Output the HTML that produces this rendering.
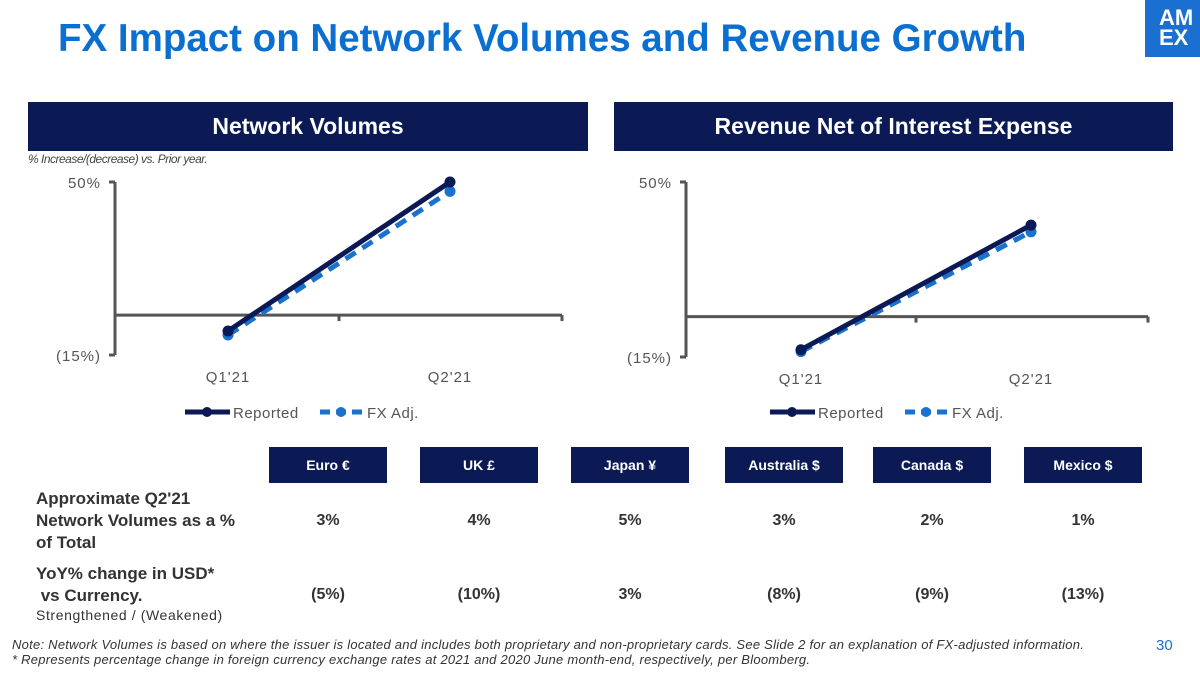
<!DOCTYPE html>
<html><head><meta charset="utf-8"><style>
body{margin:0;width:1200px;height:675px;background:#fff;position:relative;overflow:hidden;font-family:"Liberation Sans",sans-serif}
.abs{position:absolute}
.hdr{background:#0b1a55;color:#fff;font-weight:bold;font-size:23px;text-align:center;line-height:49px;height:49px;top:102px}
.cur{background:#0b1a55;color:#fff;font-weight:bold;font-size:14px;text-align:center;line-height:36px;height:36px;top:447px;width:118px}
.val{font-size:16px;font-weight:bold;color:#333;width:118px;text-align:center}
.lab{font-size:17px;font-weight:bold;color:#333;line-height:22px}
</style></head><body>
<div class="abs" style="left:58px;top:17px;font-size:38.5px;font-weight:bold;color:#0a6fd0">FX Impact on Network Volumes and Revenue Growth</div>
<div class="abs" style="left:1145px;top:0;width:55px;height:57px;background:#1a6fd0;color:#fff;font-weight:bold;font-size:22px;line-height:20px;padding:8px 0 0 14px;box-sizing:border-box">AM<br>EX</div>
<div class="abs hdr" style="left:28px;width:560px">Network Volumes</div>
<div class="abs hdr" style="left:614px;width:559px">Revenue Net of Interest Expense</div>
<div class="abs" style="left:28px;top:152px;font-size:12px;font-style:italic;color:#444;letter-spacing:-0.5px">% Increase/(decrease) vs. Prior year.</div>
<svg class="abs" style="left:0;top:0" width="1200" height="440">
<g id="c1"></g>
<g id="c2"></g>
</svg>
<div class="abs cur" style="left:269px">Euro €</div>
<div class="abs cur" style="left:420px">UK £</div>
<div class="abs cur" style="left:571px">Japan ¥</div>
<div class="abs cur" style="left:725px">Australia $</div>
<div class="abs cur" style="left:873px">Canada $</div>
<div class="abs cur" style="left:1024px">Mexico $</div>
<div class="abs lab" style="left:36px;top:488px">Approximate Q2'21<br>Network Volumes as a %<br>of Total</div>
<div class="abs lab" style="left:36px;top:563px">YoY% change in USD*<br>&nbsp;vs Currency.</div>
<div class="abs" style="left:36px;top:607px;font-size:14px;letter-spacing:0.6px;color:#333">Strengthened / (Weakened)</div>
<div id="vals"></div>
<div class="abs" style="left:12px;top:637px;font-size:13px;font-style:italic;color:#333;line-height:15px;letter-spacing:0.25px">Note: Network Volumes is based on where the issuer is located and includes both proprietary and non-proprietary cards. See Slide 2 for an explanation of FX-adjusted information.<br>* Represents percentage change in foreign currency exchange rates at 2021 and 2020 June month-end, respectively, per Bloomberg.</div>
<div class="abs" style="left:1156px;top:637px;font-size:15px;color:#1a6fd0">30</div>
<script>
const categories=["Q1'21","Q2'21"];
const nvReported=[-6,50];
const nvFxAdj=[-7.5,46.5];
const revReported=[-12.3,34];
const revFxAdj=[-13,31.5];
const yTicks=[50,-15];
const yTickLabels=["50%","(15%)"];
const shareVals=["3%","4%","5%","3%","2%","1%"];
const yoyVals=["(5%)","(10%)","3%","(8%)","(9%)","(13%)"];
const colCenters=[328,479,630,784,932,1083];
const NS="http://www.w3.org/2000/svg";
function el(p,t,a){const e=document.createElementNS(NS,t);for(const k in a)e.setAttribute(k,a[k]);p.appendChild(e);return e;}
function chart(g,o,rep,fx){
  const y=v=>o.y0+(50-v)/65*(o.y1-o.y0);
  const x=i=>o.xq[i];
  const zy=y(0);
  let a=el(g,'line',{x1:o.ax,y1:o.y0,x2:o.ax,y2:o.y1,stroke:'#555','stroke-width':3});
  
  yTicks.forEach((t,i)=>{el(g,'line',{x1:o.ax-6,y1:y(t),x2:o.ax,y2:y(t),stroke:'#555','stroke-width':3});
    const tx=el(g,'text',{x:o.ax-14,y:y(t)+6,'text-anchor':'end','font-size':15,'letter-spacing':1,fill:'#555'});tx.textContent=yTickLabels[i];
    });
  a=el(g,'line',{x1:o.ax,y1:zy,x2:o.xe,y2:zy,stroke:'#555','stroke-width':3});
  
  [(x(0)+x(1))/2,o.xe].forEach(t=>el(g,'line',{x1:t,y1:zy,x2:t,y2:zy+6,stroke:'#555','stroke-width':3}));
  categories.forEach((c,i)=>{const tx=el(g,'text',{x:x(i),y:o.y1+27,'text-anchor':'middle','font-size':15,'letter-spacing':1,fill:'#555'});tx.textContent=c;
    });
  const l2=el(g,'polyline',{points:fx.map((v,i)=>x(i)+','+y(v)).join(' '),fill:'none',stroke:'#1a72cf','stroke-width':5,'stroke-dasharray':'12 8'});
  
  fx.forEach((v,i)=>{const c=el(g,'circle',{cx:x(i),cy:y(v),r:5.5,fill:'#1a72cf'});});
  const l1=el(g,'polyline',{points:rep.map((v,i)=>x(i)+','+y(v)).join(' '),fill:'none',stroke:'#0b1a55','stroke-width':5});
  
  rep.forEach((v,i)=>{const c=el(g,'circle',{cx:x(i),cy:y(v),r:5.5,fill:'#0b1a55'});});
  const ly=412,lx=o.lx;
  el(g,'line',{x1:lx,y1:ly,x2:lx+45,y2:ly,stroke:'#0b1a55','stroke-width':5});
  el(g,'circle',{cx:lx+22,cy:ly,r:5,fill:'#0b1a55'});
  let t=el(g,'text',{x:lx+48,y:ly+6,'font-size':15,'letter-spacing':0.5,fill:'#555'});t.textContent='Reported';
  
  el(g,'line',{x1:lx+135,y1:ly,x2:lx+178,y2:ly,stroke:'#1a72cf','stroke-width':5,'stroke-dasharray':'10 6'});
  el(g,'circle',{cx:lx+156,cy:ly,r:5,fill:'#1a72cf'});
  t=el(g,'text',{x:lx+182,y:ly+6,'font-size':15,'letter-spacing':0.5,fill:'#555'});t.textContent='FX Adj.';
  
}
chart(document.getElementById('c1'),{ax:115,xe:562,y0:182,y1:355,xq:[228,450],lx:185},nvReported,nvFxAdj);
chart(document.getElementById('c2'),{ax:686,xe:1148,y0:182,y1:357,xq:[801,1031],lx:770},revReported,revFxAdj);
const vd=document.getElementById('vals');
colCenters.forEach((c,i)=>{
  let d=document.createElement('div');d.className='abs val';d.style.left=(c-59)+'px';d.style.top='512px';d.textContent=shareVals[i];
  
  
  vd.appendChild(d);
  d=document.createElement('div');d.className='abs val';d.style.left=(c-59)+'px';d.style.top='586px';d.textContent=yoyVals[i];
  
  
  vd.appendChild(d);
});
</script>
</body></html>
